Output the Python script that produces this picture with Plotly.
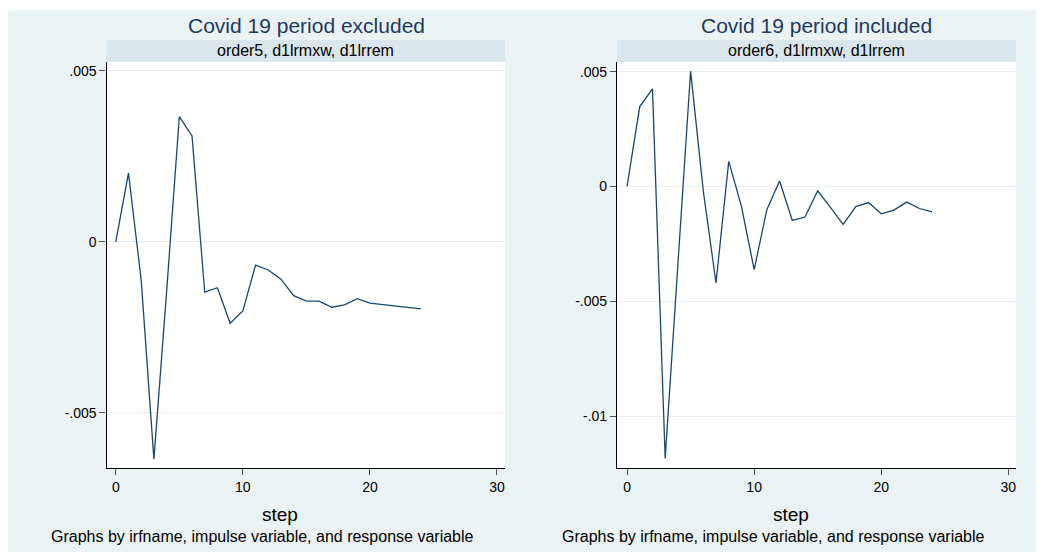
import plotly.graph_objects as go

W, H = 1048, 552

steps = list(range(25))
irf_excluded = [0.0, 0.00201, -0.00111, -0.00635, -0.00146, 0.00366, 0.00310, -0.00147,
                -0.00134, -0.00238, -0.00202, -0.00068, -0.00082, -0.00109, -0.00157,
                -0.00173, -0.00173, -0.00191, -0.00184, -0.00166, -0.00179, -0.00183,
                -0.00186, -0.00190, -0.00196]
irf_included = [0.0, 0.00348, 0.00425, -0.01184, -0.00340, 0.00502, -0.00020, -0.00420,
                0.00109, -0.00087, -0.00362, -0.00101, 0.00024, -0.00148, -0.00133,
                -0.00019, -0.00091, -0.00165, -0.00088, -0.00070, -0.00119, -0.00103,
                -0.00068, -0.00096, -0.00111]

titles = ["Covid 19 period excluded", "Covid 19 period included"]
strips = ["order5, d1lrmxw, d1lrrem", "order6, d1lrmxw, d1lrrem"]
x_ticks = [0, 10, 20, 30]
y_ticks_left = [0.005, 0, -0.005]
y_ticklabels_left = [".005", "0", "-.005"]
y_ticks_right = [0.005, 0, -0.005, -0.01]
y_ticklabels_right = [".005", "0", "-.005", "-.01"]
x_title = "step"
note = "Graphs by irfname, impulse variable, and response variable"

BG = "#EAF2F3"
STRIP = "#D9E6EB"
LINE = "#1A476F"
GRID = "#E8EFF2"
FONT = "Liberation Sans, Arial, Helvetica, sans-serif"

def px(x):
    return x / W

def py(y):
    return 1 - y / H

panels = [
    dict(left=106.5, right=505, xr=[-0.73, 30.63], yr=[-0.00661, 0.00526],
         yt=y_ticks_left, ytl=y_ticklabels_left, data=irf_excluded,
         title_x=306, step_x=280, note_x=49),
    dict(left=617, right=1016, xr=[-0.79, 30.6], yr=[-0.01226, 0.00542],
         yt=y_ticks_right, ytl=y_ticklabels_right, data=irf_included,
         title_x=816, step_x=791, note_x=560),
]
top, bottom = 62, 468

fig = go.Figure()
shapes = [dict(type="rect", xref="paper", yref="paper", x0=px(8), x1=px(1036),
               y0=0, y1=py(10), fillcolor=BG, line=dict(width=0), layer="below")]
annotations = []
layout = {}
for i, p in enumerate(panels):
    n = "" if i == 0 else str(i + 1)
    fig.add_trace(go.Scatter(x=steps, y=p["data"], mode="lines",
                             line=dict(color=LINE, width=1.3),
                             xaxis="x" + n, yaxis="y" + n, showlegend=False))
    layout["xaxis" + n] = dict(domain=[px(p["left"]), px(p["right"])], range=p["xr"],
                               anchor="y" + n, tickvals=x_ticks, ticks="outside",
                               ticklen=6, tickcolor="#555", showgrid=False,
                               zeroline=False, showline=True, linecolor="black",
                               linewidth=1.2, tickfont=dict(size=14, color="black"))
    layout["yaxis" + n] = dict(domain=[py(bottom), py(top)], range=p["yr"],
                               anchor="x" + n, tickvals=p["yt"], ticktext=p["ytl"],
                               ticks="outside", ticklen=6, tickcolor="#555",
                               showgrid=True, gridcolor=GRID, gridwidth=1,
                               zeroline=False, showline=True, linecolor="black",
                               linewidth=1.2, tickfont=dict(size=14, color="black"))
    shapes.append(dict(type="rect", xref="paper", yref="paper", x0=px(p["left"]),
                       x1=px(p["right"]), y0=py(bottom), y1=py(top),
                       fillcolor="white", line=dict(width=0), layer="below"))
    shapes.append(dict(type="rect", xref="paper", yref="paper", x0=px(p["left"]),
                       x1=px(p["right"]), y0=py(top), y1=py(40),
                       fillcolor=STRIP, line=dict(width=0), layer="below"))
    annotations.append(dict(text=strips[i], xref="paper", yref="paper",
                            x=px((p["left"] + p["right"]) / 2), y=py(51),
                            showarrow=False, xanchor="center", yanchor="middle",
                            font=dict(size=16, color="black")))
    annotations.append(dict(text=titles[i], xref="paper", yref="paper",
                            x=px(p["title_x"]), y=py(26), showarrow=False,
                            xanchor="center", yanchor="middle",
                            font=dict(size=21, color="#1E3A5F")))
    annotations.append(dict(text=x_title, xref="paper", yref="paper",
                            x=px(p["step_x"]), y=py(514), showarrow=False,
                            xanchor="center", yanchor="middle",
                            font=dict(size=19, color="black")))
    annotations.append(dict(text=note, xref="paper", yref="paper",
                            x=px(p["note_x"]), y=py(536), showarrow=False,
                            xanchor="left", yanchor="middle",
                            font=dict(size=16, color="black")))

fig.update_layout(width=W, height=H, margin=dict(l=0, r=0, t=0, b=0),
                  paper_bgcolor="white", plot_bgcolor="rgba(0,0,0,0)",
                  font=dict(family=FONT), shapes=shapes, annotations=annotations,
                  showlegend=False, **layout)
fig.write_html("out.html")
